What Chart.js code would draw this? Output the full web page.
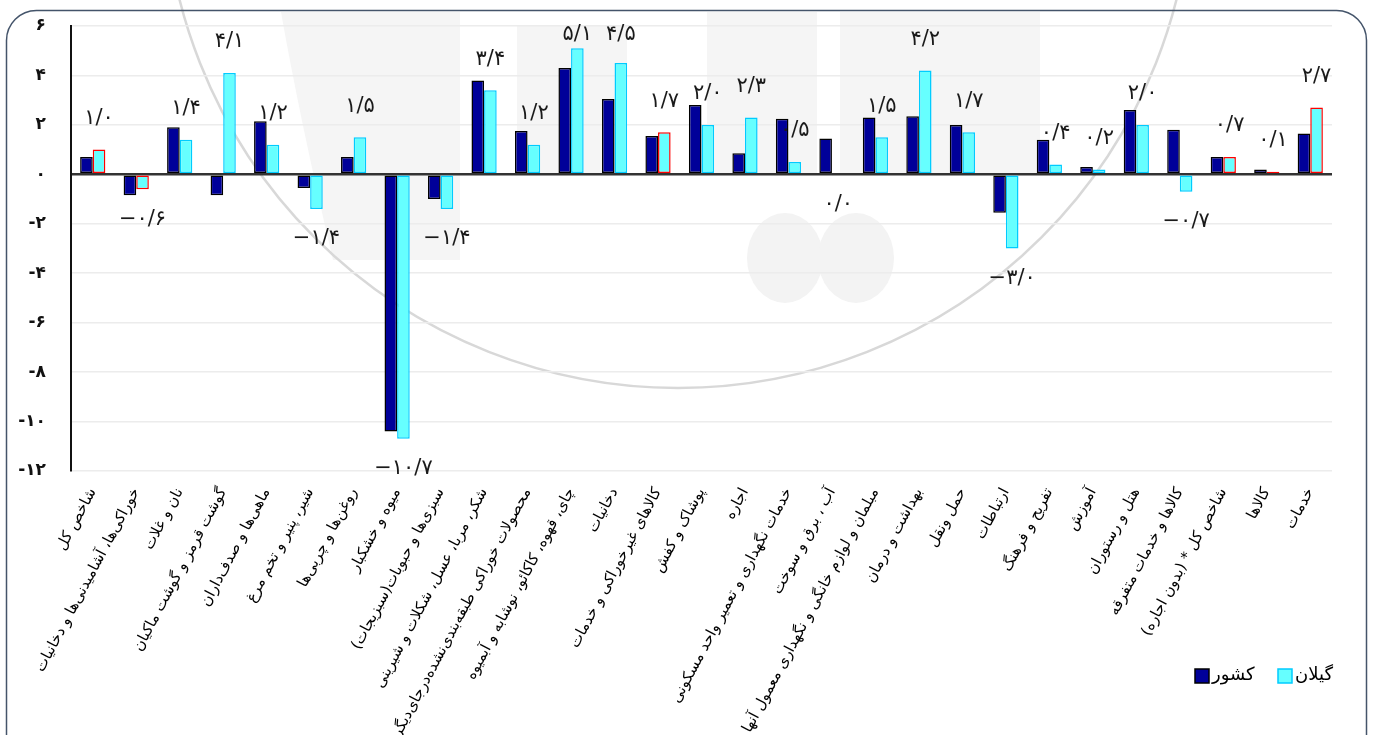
<!DOCTYPE html>
<html lang="fa">
<head>
<meta charset="utf-8">
<script src="https://cdn.jsdelivr.net/npm/chart.js@4.4.1/dist/chart.umd.min.js"></script>
<style>
  html, body { margin: 0; padding: 0; background: #ffffff; }
  #c { display: block; }
</style>
</head>
<body>
<canvas id="c" width="1374" height="735"></canvas>
<script>
// ---------- data ----------
const categories = [
  'شاخص کل',
  'خوراکی‌ها، آشامیدنی‌ها و دخانیات',
  'نان و غلات',
  'گوشت قرمز و گوشت ماکیان',
  'ماهی‌ها و صدف‌داران',
  'شیر، پنیر و تخم مرغ',
  'روغن‌ها و چربی‌ها',
  'میوه و خشکبار',
  'سبزی‌ها و حبوبات(سبزیجات)',
  'شکر، مربا، عسل، شکلات و شیرینی',
  'محصولات خوراکی طبقه‌بندی‌نشده‌درجای‌دیگر',
  'چای، قهوه، کاکائو، نوشابه و آبمیوه',
  'دخانیات',
  'کالاهای غیرخوراکی و خدمات',
  'پوشاک و کفش',
  'اجاره',
  'خدمات نگهداری و تعمیر واحد مسکونی',
  'آب ، برق و سوخت',
  'مبلمان و لوازم خانگی و نگهداری معمول آنها',
  'بهداشت و درمان',
  'حمل ونقل',
  'ارتباطات',
  'تفریح و فرهنگ',
  'آموزش',
  'هتل و رستوران',
  'کالاها و خدمات متفرقه',
  'شاخص کل * (بدون اجاره)',
  'کالاها',
  'خدمات'
];
const seriesNames = ['کشور', 'گیلان'];
const countryValues = [0.7, -0.85, 1.9, -0.85, 2.15, -0.55, 0.7, -10.4, -1.0, 3.8, 1.75, 4.3, 3.05, 1.55, 2.8, 0.85, 2.25, 1.45, 2.3, 2.35, 2.0, -1.55, 1.4, 0.3, 2.6, 1.8, 0.7, 0.2, 1.65];
const gilanValues   = [1.0, -0.6, 1.4, 4.1, 1.2, -1.4, 1.5, -10.7, -1.4, 3.4, 1.2, 5.1, 4.5, 1.7, 2.0, 2.3, 0.5, 0.0, 1.5, 4.2, 1.7, -3.0, 0.4, 0.2, 2.0, -0.7, 0.7, 0.1, 2.7];
const yMin = -12, yMax = 6, yStep = 2;
const highlightedIndexes = [0, 1, 13, 26, 27, 28];

// ---------- helpers ----------
const faDigits = '۰۱۲۳۴۵۶۷۸۹';
function toFa(str) { return String(str).replace(/\d/g, d => faDigits[+d]); }
function fmtValue(v) {
  const s = toFa(Math.abs(v).toFixed(1)).replace('.', '/');
  return (v < 0 ? '−' : '') + s;
}
function fmtTick(v) {
  return (v < 0 ? '-' : '') + toFa(Math.abs(v));
}

const NAVY = '#000099', CYAN = '#66FFFF', CYAN_BORDER = '#00CCFF', RED = '#FF0000';

// ---------- plugins ----------
const backgroundPlugin = {
  id: 'bgFrame',
  beforeDraw(chart) {
    const ctx = chart.ctx;
    ctx.save();
    ctx.fillStyle = '#ffffff';
    ctx.fillRect(0, 0, chart.width, chart.height);
    // faint watermark
    ctx.fillStyle = '#f5f5f5';
    ctx.beginPath();
    ctx.moveTo(281, 12); ctx.quadraticCurveTo(300, 120, 333, 260); ctx.lineTo(460, 260); ctx.lineTo(460, 12); ctx.closePath();
    ctx.fill();
    ctx.fillRect(517, 25, 110, 150);
    ctx.fillRect(707, 12, 110, 162);
    ctx.fillRect(840, 12, 200, 162);
    ctx.fillStyle = '#f3f3f3';
    ctx.beginPath(); ctx.ellipse(785, 258, 38, 45, 0, 0, Math.PI * 2); ctx.fill();
    ctx.beginPath(); ctx.ellipse(856, 258, 38, 45, 0, 0, Math.PI * 2); ctx.fill();
    ctx.strokeStyle = '#d8d8d8';
    ctx.lineWidth = 2.5;
    ctx.beginPath();
    ctx.arc(678, -126, 514, 0, Math.PI);
    ctx.stroke();
    // frame
    ctx.strokeStyle = '#44546A';
    ctx.lineWidth = 1.5;
    ctx.beginPath();
    ctx.roundRect(6.5, 10.5, 1360, 780, 30);
    ctx.stroke();
    ctx.restore();
  }
};

const valueLabelPlugin = {
  id: 'valueLabels',
  afterDatasetsDraw(chart) {
    const ctx = chart.ctx;
    const meta = chart.getDatasetMeta(1);
    ctx.save();
    ctx.font = '21px "DejaVu Sans"';
    ctx.fillStyle = '#1a1a1a';
    ctx.textAlign = 'center';
    ctx.textBaseline = 'middle';
    meta.data.forEach((bar, i) => {
      const v = gilanValues[i];
      const y = v > 0 ? Math.max(bar.y - 31, 35) : bar.y + 30;
      ctx.fillText(fmtValue(v), bar.x, y);
    });
    ctx.restore();
  }
};

const legendPlugin = {
  id: 'customLegend',
  afterDraw(chart) {
    const ctx = chart.ctx;
    const items = [
      { label: seriesNames[0], fill: NAVY, stroke: '#000000', x: 1195 },
      { label: seriesNames[1], fill: CYAN, stroke: CYAN_BORDER, x: 1278 }
    ];
    ctx.save();
    ctx.font = '18px "DejaVu Sans"';
    ctx.textBaseline = 'middle';
    ctx.textAlign = 'left';
    items.forEach(it => {
      ctx.fillStyle = it.fill;
      ctx.fillRect(it.x, 669, 14, 14);
      ctx.strokeStyle = it.stroke;
      ctx.lineWidth = 1.5;
      ctx.strokeRect(it.x, 669, 14, 14);
      ctx.fillStyle = '#000';
      ctx.fillText(it.label, it.x + 17, 675);
    });
    ctx.restore();
  }
};

// ---------- chart ----------
new Chart(document.getElementById('c'), {
  type: 'bar',
  data: {
    labels: categories,
    datasets: [
      {
        label: seriesNames[0],
        data: countryValues,
        backgroundColor: NAVY,
        borderColor: '#000000',
        borderWidth: 1.5,
        borderSkipped: false,
        categoryPercentage: 0.58,
        barPercentage: 1.0
      },
      {
        label: seriesNames[1],
        data: gilanValues,
        backgroundColor: CYAN,
        borderColor: categories.map((_, i) => highlightedIndexes.includes(i) ? RED : CYAN_BORDER),
        borderWidth: 1.5,
        borderSkipped: false,
        categoryPercentage: 0.58,
        barPercentage: 1.0
      }
    ]
  },
  options: {
    responsive: false,
    animation: false,
    devicePixelRatio: 1,
    layout: { padding: { left: 0, right: 42, top: 26, bottom: 0 } },
    plugins: {
      legend: { display: false },
      tooltip: { enabled: false },
      title: { display: false }
    },
    scales: {
      x: {
        grid: { display: false, drawTicks: false },
        border: { display: false },
        ticks: {
          autoSkip: false,
          minRotation: 62,
          maxRotation: 62,
          padding: 14,
          color: '#000',
          font: { family: 'DejaVu Sans', size: 15 },
          callback: (v, i) => '\u200F' + categories[i] + '\u200F'
        },
        afterFit: s => { s.height = 264; }
      },
      y: {
        min: yMin,
        max: yMax,
        ticks: {
          stepSize: yStep,
          padding: 25,
          color: '#111',
          font: { family: 'DejaVu Sans', size: 17, weight: 'bold' },
          callback: v => fmtTick(v)
        },
        grid: {
          drawTicks: false,
          color: c => c.tick && c.tick.value === 0 ? '#333333' : '#ececec',
          lineWidth: c => c.tick && c.tick.value === 0 ? 2.5 : 1.5
        },
        border: { display: true, color: '#111', width: 2 },
        afterFit: s => { s.width = 71; s.paddingTop = 0; s.paddingBottom = 0; }
      }
    }
  },
  plugins: [backgroundPlugin, valueLabelPlugin, legendPlugin]
});
</script>
</body>
</html>
